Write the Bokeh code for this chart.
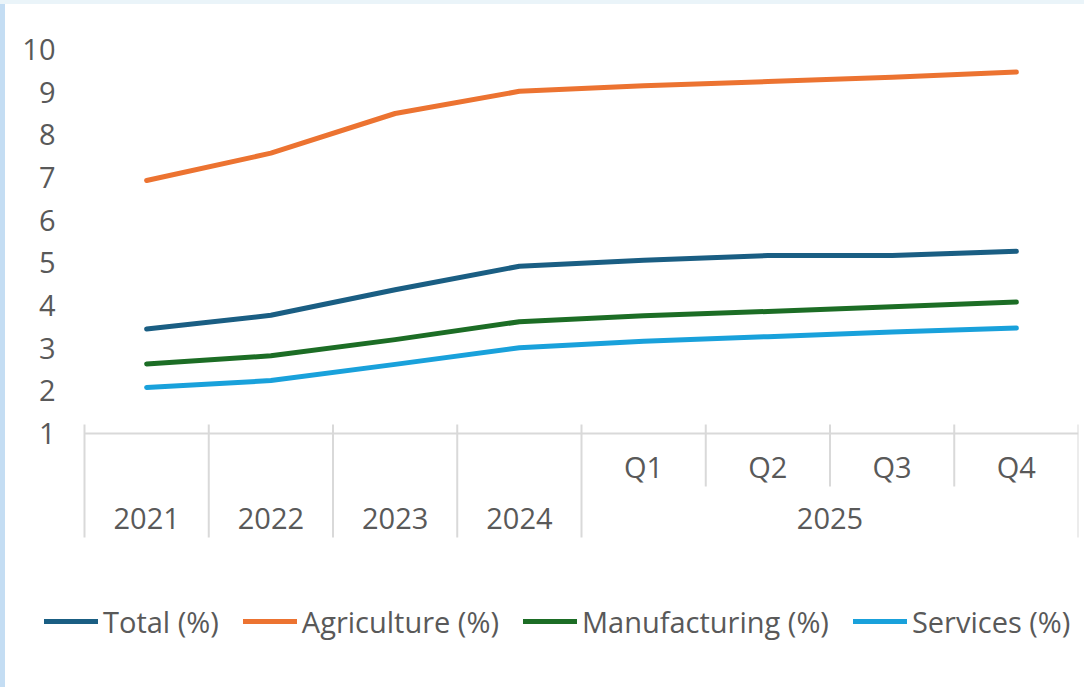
from bokeh.plotting import figure
from bokeh.models import Range1d, Legend, LegendItem, Div
from bokeh.layouts import row, column
from bokeh.core.properties import value
from bokeh.embed import file_html
from bokeh.resources import INLINE

# ---- data ----
periods = ["2021", "2022", "2023", "2024", "Q1", "Q2", "Q3", "Q4"]
year_labels = ["2021", "2022", "2023", "2024", "2025"]
quarter_labels = ["Q1", "Q2", "Q3", "Q4"]
total = [3.45, 3.77, 4.37, 4.92, 5.06, 5.17, 5.17, 5.27]
agriculture = [6.93, 7.57, 8.5, 9.02, 9.15, 9.25, 9.35, 9.47]
manufacturing = [2.63, 2.82, 3.2, 3.62, 3.76, 3.86, 3.97, 4.08]
services = [2.08, 2.24, 2.62, 3.01, 3.16, 3.27, 3.38, 3.47]
y_ticks = [1, 2, 3, 4, 5, 6, 7, 8, 9, 10]

series = [
    ("Total (%)", total, "#1a5e83"),
    ("Agriculture (%)", agriculture, "#ec7331"),
    ("Manufacturing (%)", manufacturing, "#1c6d25"),
    ("Services (%)", services, "#19a1db"),
]

FONT = "Open Sans"
TXT = "#595959"
GRID = "#d9d9d9"
FS = "29px"

# geometry (page px): top strip 4px, left strip 5px
W, H = 1079, 683
OFF_X, OFF_Y = 5, 4
PX = 384 / 9.0      # pixels per y unit
CW = 994 / 8.0      # pixels per category
n = len(periods)


def yv(page_y):
    return 10 - (page_y - 49) / PX


def xv(page_x):
    return -0.5 + (page_x - 84) / CW


p = figure(width=W, height=H, output_backend="svg", toolbar_location=None,
           x_range=Range1d(xv(OFF_X), n - 0.5),
           y_range=Range1d(yv(OFF_Y + H), yv(OFF_Y)),
           min_border_left=0, min_border_right=6,
           min_border_top=0, min_border_bottom=0)
p.outline_line_color = None
p.grid.visible = False
p.xaxis.visible = False
p.yaxis.visible = False
p.background_fill_color = "white"
p.border_fill_color = "white"

# value-axis labels
p.text(x=[xv(55)] * len(y_ticks), y=y_ticks, text=[str(t) for t in y_ticks],
       text_font=value(FONT), text_font_size=FS, text_color=TXT,
       text_align="right", text_baseline="middle")

# category axis line
p.segment(x0=[-0.5], y0=[y_ticks[0]], x1=[n - 0.5], y1=[y_ticks[0]],
          line_color=GRID, line_width=2)
# separators
nq = len(quarter_labels)
first_q = n - nq
bx = [b - 0.5 for b in range(n + 1)]
long_b = [b for b in bx if b <= first_q - 0.5 or b >= n - 0.5]
short_b = [b for b in bx if first_q - 0.5 < b < n - 0.5]
p.segment(x0=long_b, y0=[yv(424)] * len(long_b), x1=long_b, y1=[yv(537)] * len(long_b),
          line_color=GRID, line_width=2)
p.segment(x0=short_b, y0=[yv(424)] * len(short_b), x1=short_b, y1=[yv(486)] * len(short_b),
          line_color=GRID, line_width=2)

# quarter labels
qx = list(range(first_q, n))
p.text(x=qx, y=[yv(466)] * nq, text=quarter_labels, text_font=value(FONT),
       text_font_size=FS, text_color=TXT, text_align="center", text_baseline="middle")
# year labels
yx = list(range(first_q)) + [first_q + (nq - 1) / 2.0]
p.text(x=yx, y=[yv(518)] * len(yx), text=year_labels, text_font=value(FONT),
       text_font_size=FS, text_color=TXT, text_align="center", text_baseline="middle")

items = []
xs = list(range(n))
for name, vals, col in series:
    r = p.line(x=xs, y=vals, line_color=col, line_width=5,
               line_cap="round", line_join="round")
    items.append(LegendItem(label=name, renderers=[r]))

legend = Legend(items=items, orientation="horizontal", location=(39, 46),
                padding=0, margin=0, spacing=24, label_standoff=5,
                glyph_width=54, glyph_height=40, label_height=40,
                label_text_font=FONT, label_text_font_size=FS,
                label_text_color=TXT, border_line_color=None,
                background_fill_alpha=0)
p.add_layout(legend, "center")

top_strip = Div(width=1084, height=OFF_Y, margin=0,
                styles={"background-color": "#eaf4f9"})
left_strip = Div(width=OFF_X, height=H, margin=0,
                 styles={"background-color": "#c4ddf3"})
layout = column(top_strip, row(left_strip, p, spacing=0, margin=0),
                spacing=0, margin=0)

open("out.html", "w").write(file_html(layout, INLINE))
